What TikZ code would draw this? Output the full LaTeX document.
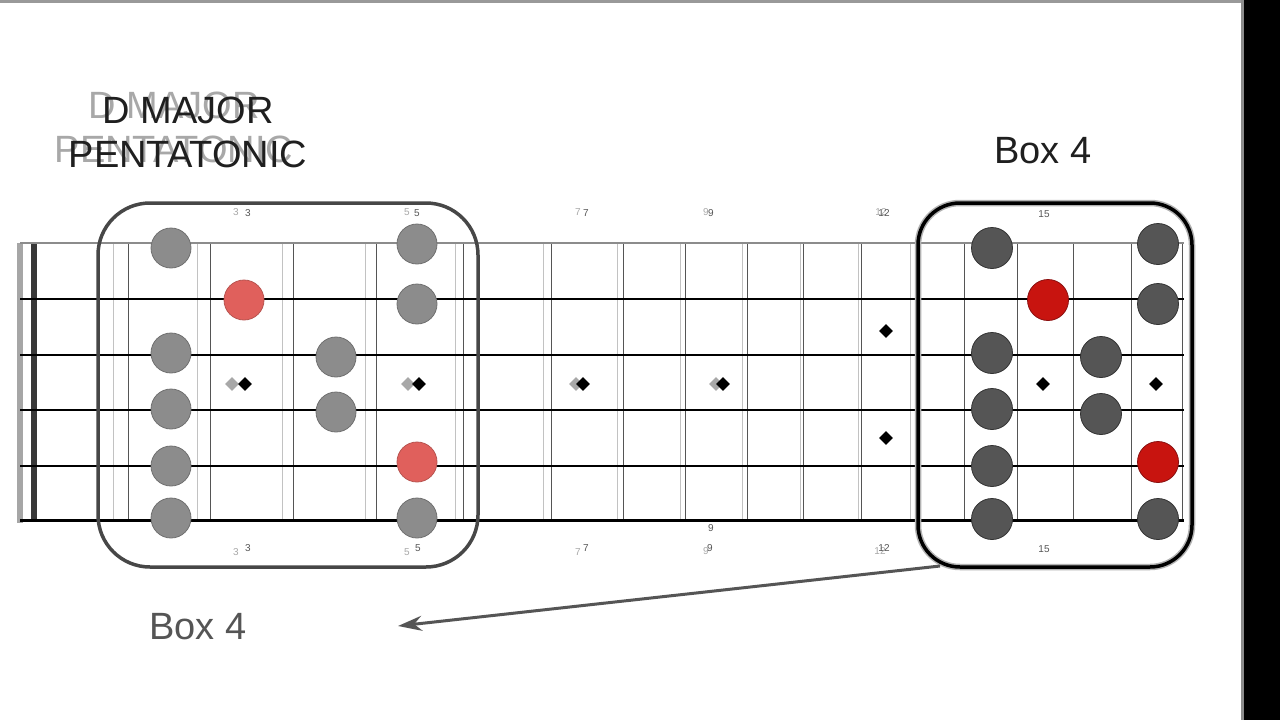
\documentclass[tikz,border=0pt]{standalone}
\usepackage{fontspec}
\setmainfont{Liberation Sans}
\usetikzlibrary{arrows.meta,shapes.geometric}
\definecolor{ghost}{HTML}{A8A8A8}
\definecolor{fretdark}{HTML}{555555}
\definecolor{noteL}{HTML}{8C8C8C}
\definecolor{noteLline}{HTML}{707070}
\definecolor{redL}{HTML}{E0605C}
\definecolor{redLline}{HTML}{B85450}
\definecolor{noteR}{HTML}{555555}
\definecolor{noteRline}{HTML}{333333}
\definecolor{redR}{HTML}{C8140F}
\definecolor{redRline}{HTML}{8A1010}
\definecolor{txtgray}{HTML}{555555}
\tikzset{
  notel/.style={circle, draw=noteLline, fill=noteL, line width=0.8, minimum size=40, inner sep=0},
  redl/.style={circle, draw=redLline, fill=redL, line width=0.8, minimum size=40, inner sep=0},
  noter/.style={circle, draw=noteRline, fill=noteR, line width=0.8, minimum size=41, inner sep=0},
  redr/.style={circle, draw=redRline, fill=redR, line width=0.8, minimum size=41, inner sep=0},
  inlay/.style={diamond, aspect=1, fill=black, minimum size=14, inner sep=0},
  inlayghost/.style={diamond, aspect=1, fill=ghost, minimum size=14, inner sep=0},
  fretlbl/.style={font=\fontsize{10}{10}\selectfont, text=txtgray, inner sep=0},
  fretghost/.style={font=\fontsize{10}{10}\selectfont, text=ghost, inner sep=0},
  bigtxt/.style={font=\fontsize{38}{40}\selectfont, inner sep=0, anchor=base},
  boxleft/.style={draw=black!72, line width=3.5, rounded corners=52, minimum width=380, minimum height=364, inner sep=0},
  boxright/.style={draw=black, line width=3.5, rounded corners=42, minimum width=274, minimum height=364, inner sep=0},
  boxhalo/.style={draw=black!30, line width=6.5, rounded corners=42, minimum width=274, minimum height=364, inner sep=0},
  fretline/.style={draw=fretdark, line width=1},
  fretlineghost/.style={draw=ghost!70, line width=1},
  arrowline/.style={draw=txtgray, line width=3, -{Stealth[length=24, width=15]}}
}
\begin{document}
\begin{tikzpicture}[x=1pt,y=-1pt]
\useasboundingbox (0,0) rectangle (1280,720);
\fill[white] (0,0) rectangle (1280,720);
% frame edges
\fill[black] (1244,0) rectangle (1280,720);
\fill[black!45] (1241,0) rectangle (1244,720);
\fill[black!40] (0,0) rectangle (1241,2.5);

% nut
\fill[black!35] (17,243) rectangle (23,523);
\fill[black!78] (31,243) rectangle (37,521);

% frets (ghost)
\foreach \x in {113,197,282,365,455,543,617,680,742,800,858,910}
  \draw[fretlineghost] (\x,243) -- (\x,520);
% frets (dark)
\foreach \x in {128,210,293,376,463,551,623,685,747,803,861,964,1017,1073,1131,1182}
  \draw[fretline] (\x,243) -- (\x,520);

% strings
\draw[line width=1.2, black!45] (20,243) -- (1184,243);
\draw[line width=1.1, black] (20,299) -- (1184,299);
\draw[line width=1.6, black] (20,355) -- (1184,355);
\draw[line width=1.9, black] (20,410) -- (1184,410);
\draw[line width=2.2, black] (20,466) -- (1184,466);
\draw[line width=2.6, black] (20,520.5) -- (1184,520.5);

% boxes
\node[boxleft] (boxL) at (288,385) {};
\node[boxhalo] (boxRh) at (1055,385) {};
\node[boxright] (boxR) at (1055,385) {};

% inlays
\node[inlayghost] (g3) at (232,384) {};
\node[inlay] (i3) at (245,384) {};
\node[inlayghost] (g5) at (408,384) {};
\node[inlay] (i5) at (419,384) {};
\node[inlayghost] (g7) at (576,384) {};
\node[inlay] (i7) at (583,384) {};
\node[inlayghost] (g9) at (716,384) {};
\node[inlay] (i9) at (723,384) {};
\node[inlay] (i12a) at (886,331) {};
\node[inlay] (i12b) at (886,438) {};
\node[inlay] (i15) at (1043,384) {};
\node[inlay] (i17) at (1156,384) {};

% left box notes
\node[notel] (l1a) at (171,248) {};
\node[notel] (l1b) at (417,244) {};
\node[redl]  (l2a) at (244,300) {};
\node[notel] (l2b) at (417,304) {};
\node[notel] (l3a) at (171,353) {};
\node[notel] (l3b) at (336,357) {};
\node[notel] (l4a) at (171,409) {};
\node[notel] (l4b) at (336,412) {};
\node[notel] (l5a) at (171,466) {};
\node[redl]  (l5b) at (417,462) {};
\node[notel] (l6a) at (171,518) {};
\node[notel] (l6b) at (417,518) {};

% right box notes
\node[noter] (r1a) at (992,248) {};
\node[noter] (r1b) at (1158,244) {};
\node[redr]  (r2a) at (1048,300) {};
\node[noter] (r2b) at (1158,304) {};
\node[noter] (r3a) at (992,353) {};
\node[noter] (r3b) at (1101,357) {};
\node[noter] (r4a) at (992,409) {};
\node[noter] (r4b) at (1101,414) {};
\node[noter] (r5a) at (992,466) {};
\node[redr]  (r5b) at (1158,462) {};
\node[noter] (r6a) at (992,519) {};
\node[noter] (r6b) at (1158,519) {};

% fret labels top
\node[fretghost] (tg3) at (236,212) {3};
\node[fretlbl]   (t3)  at (248,213) {3};
\node[fretghost] (tg5) at (407,212) {5};
\node[fretlbl]   (t5)  at (417,213) {5};
\node[fretghost] (tg7) at (578,212) {7};
\node[fretlbl]   (t7)  at (586,213) {7};
\node[fretghost] (tg9) at (706,212) {9};
\node[fretlbl]   (t9)  at (711,213) {9};
\node[fretghost] (tg12) at (881,212) {12};
\node[fretlbl]   (t12) at (884,213) {12};
\node[fretlbl]   (t15) at (1044,214) {15};
% fret labels bottom
\node[fretghost] (bg3) at (236,552) {3};
\node[fretlbl]   (b3)  at (248,548) {3};
\node[fretghost] (bg5) at (407,552) {5};
\node[fretlbl]   (b5)  at (418,548) {5};
\node[fretghost] (bg7) at (578,552) {7};
\node[fretlbl]   (b7)  at (586,548) {7};
\node[fretghost] (bg9) at (706,551) {9};
\node[fretlbl]   (b9)  at (710,548) {9};
\node[fretghost] (bg12) at (880,551) {12};
\node[fretlbl]   (b12) at (884,548) {12};
\node[fretlbl]   (b15) at (1044,549) {15};
\node[fretlbl]   (m9)  at (711,528) {9};

% titles
\node[bigtxt, text=ghost] (titleg1) at (174,118) {D MAJOR};
\node[bigtxt, text=ghost] (titleg2) at (174,162) {PENTATONIC};
\node[bigtxt, text=black!88] (title1) at (188,123) {D MAJOR};
\node[bigtxt, text=black!88] (title2) at (188,167) {PENTATONIC};

\node[bigtxt, text=black!88] (boxlblR) at (1043,163) {Box 4};
\node[bigtxt, text=txtgray] (boxlblL) at (198,639) {Box 4};

% arrow
\coordinate (arrS) at (940,566);
\coordinate (arrE) at (398,626);
\draw[arrowline] (arrS) -- (arrE);
\end{tikzpicture}
\end{document}
